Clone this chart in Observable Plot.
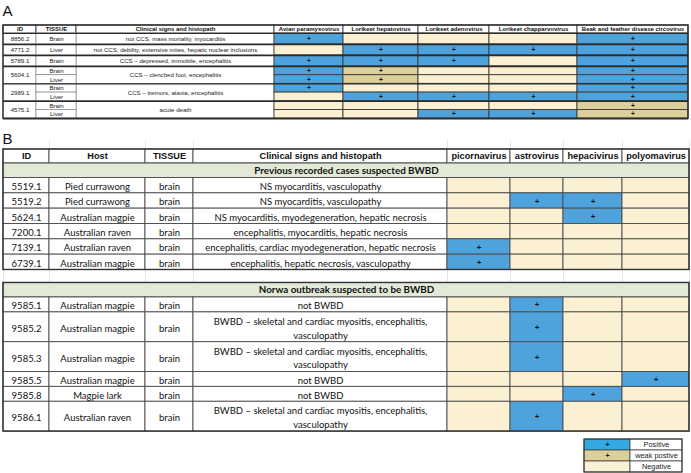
<!DOCTYPE html>
<html><head><meta charset="utf-8">
<script src="https://cdn.jsdelivr.net/npm/d3@7"></script>
<script src="https://cdn.jsdelivr.net/npm/@observablehq/plot@0.6"></script>
<style>html,body{margin:0;padding:0;background:#fff;overflow:hidden;}</style>
</head><body><div id="chart"></div>
<script>
// ---------------- DATA ----------------
const panelLabels = ["A", "B"];

// Panel A
const headersA = ["ID", "TISSUE", "Clinical signs and histopath"];
const virusesA = ["Avian paramyxovirus", "Lorikeet hepatovirus", "Lorikeet adenovirus", "Lorikeet chapparvovirus", "Beak and feather disease circovirus"];
const sampleIdsA = ["8856.2", "4771.2", "5789.1", "5604.1", "2989.1", "4575.1"];
const signsA = [
  "not CCS, mass mortality, myocarditis",
  "not CCS, debility, extensive mites, hepatic nuclear inclusions",
  "CCS \u2013 depressed, immobile, encephalitis",
  "CCS \u2013 clenched foot, encephalitis",
  "CCS \u2013 tremors, ataxia, encephalitis",
  "acute death"
];
const rowSampleA = [0, 1, 2, 3, 3, 4, 4, 5, 5];
const tissuesA = ["Brain", "Liver", "Brain", "Brain", "Liver", "Brain", "Liver", "Brain", "Liver"];
// P = positive, W = weak positive, N = negative
const resultsA = [
  ["P", "N", "N", "N", "P"],
  ["N", "P", "P", "P", "P"],
  ["P", "P", "P", "N", "P"],
  ["P", "W", "N", "N", "P"],
  ["P", "W", "N", "N", "P"],
  ["P", "N", "N", "N", "P"],
  ["N", "P", "P", "P", "P"],
  ["N", "N", "N", "N", "W"],
  ["N", "N", "P", "P", "W"]
];

// Panel B
const headersB = ["ID", "Host", "TISSUE", "Clinical signs and histopath"];
const virusesB = ["picornavirus", "astrovirus", "hepacivirus", "polyomavirus"];
const sectionsB = ["Previous recorded cases suspected BWBD", "Norwa outbreak suspected to be BWBD"];
const rowSectionB = [0, 0, 0, 0, 0, 0, 1, 1, 1, 1, 1, 1];
const idsB = ["5519.1", "5519.2", "5624.1", "7200.1", "7139.1", "6739.1", "9585.1", "9585.2", "9585.3", "9585.5", "9585.8", "9586.1"];
const hostsB = ["Pied currawong", "Pied currawong", "Australian magpie", "Australian raven", "Australian raven", "Australian magpie",
  "Australian magpie", "Australian magpie", "Australian magpie", "Australian magpie", "Magpie lark", "Australian raven"];
const tissuesB = ["brain", "brain", "brain", "brain", "brain", "brain", "brain", "brain", "brain", "brain", "brain", "brain"];
const signsB = [
  "NS myocarditis, vasculopathy",
  "NS myocarditis, vasculopathy",
  "NS myocarditis, myodegeneration, hepatic necrosis",
  "encephalitis, myocarditis, hepatic necrosis",
  "encephalitis, cardiac myodegeneration, hepatic necrosis",
  "encephalitis, hepatic necrosis, vasculopathy",
  "not BWBD",
  "BWBD \u2013 skeletal and cardiac myositis, encephalitis,\nvasculopathy",
  "BWBD \u2013 skeletal and cardiac myositis, encephalitis,\nvasculopathy",
  "not BWBD",
  "not BWBD",
  "BWBD \u2013 skeletal and cardiac myositis, encephalitis,\nvasculopathy"
];
const resultsB = [
  ["N", "N", "N", "N"],
  ["N", "P", "P", "N"],
  ["N", "N", "P", "N"],
  ["N", "N", "N", "N"],
  ["P", "N", "N", "N"],
  ["P", "N", "N", "N"],
  ["N", "P", "N", "N"],
  ["N", "P", "N", "N"],
  ["N", "P", "N", "N"],
  ["N", "N", "N", "P"],
  ["N", "N", "P", "N"],
  ["N", "P", "N", "N"]
];

// Legend
const legendCodes = ["P", "W", "N"];
const legendLabels = ["Positive", "weak postive", "Negative"];
const plusSign = "+";

// ---------------- LAYOUT / STYLE ----------------
const W = 691, H = 473;
const fillA = {P: "#4ea3dc", W: "#dccf9a", N: "#fbf0d2"};
const fillLegend = {P: "#33a9e2", W: "#dccf9a", N: "#fcf1d4"};
const colA = [3, 36, 76, 274, 343, 418, 489, 577, 688];
const headA = [25, 33];
const rowHA = [11, 11, 11, 8.7, 8.7, 8.7, 8.7, 8.7, 8.7];
const colB = [3, 49, 145, 193, 447, 510, 563, 622, 689];
const headB = [149, 163];
const sectHB = 14.5;
const unitB = [15.33, 14.9];
const gapB = 13;
const legendBox = {x: [584, 630, 682], y0: 439, rowH: 11};

const rects = [], rules = [], grid = [];
const tA_head = [], tA_body = [], tA_plus = [];
const tB_head = [], tB_sect = [], tB_body = [], tB_plus = [];
const tLeg = [], tLegPlus = [], tPanel = [];

function cell(x1, x2, y1, y2, fill, stroke, sw) { rects.push({x1, x2, y1, y2, fill, stroke, sw}); }

// Panel labels
tPanel.push({x: 2, y: 11, text: panelLabels[0]});
tPanel.push({x: 2, y: 139, text: panelLabels[1]});

// ---- Panel A ----
const dA = "#3c3c3c";
[...headersA, ...virusesA].forEach((h, i) => {
  cell(colA[i], colA[i + 1], headA[0], headA[1], "#ffffff", dA, 0.9);
  tA_head.push({x: (colA[i] + colA[i + 1]) / 2, y: (headA[0] + headA[1]) / 2, text: h});
});
const rowYA = [headA[1]];
rowHA.forEach(h => rowYA.push(rowYA[rowYA.length - 1] + h));
sampleIdsA.forEach((id, s) => {
  const rows = rowSampleA.map((v, i) => v === s ? i : -1).filter(i => i >= 0);
  const y1 = rowYA[rows[0]], y2 = rowYA[rows[rows.length - 1] + 1];
  cell(colA[0], colA[1], y1, y2, "#ffffff", "#888", 0.7);
  cell(colA[2], colA[3], y1, y2, "#ffffff", "#888", 0.7);
  tA_body.push({x: (colA[0] + colA[1]) / 2, y: (y1 + y2) / 2, text: id});
  tA_body.push({x: (colA[2] + colA[3]) / 2, y: (y1 + y2) / 2, text: signsA[s]});
  rules.push({y: y2, x1: colA[0], x2: colA[8], sw: 1.4, stroke: "#2a2a2a"});
});
tissuesA.forEach((t, r) => {
  const y1 = rowYA[r], y2 = rowYA[r + 1];
  cell(colA[1], colA[2], y1, y2, "#ffffff", "#888", 0.7);
  tA_body.push({x: (colA[1] + colA[2]) / 2, y: (y1 + y2) / 2, text: t});
  resultsA[r].forEach((code, v) => {
    const x1 = colA[3 + v], x2 = colA[4 + v];
    cell(x1, x2, y1, y2, fillA[code], dA, 0.9);
    if (code !== "N") tA_plus.push({x: (x1 + x2) / 2, y: (y1 + y2) / 2, text: plusSign});
  });
});
rects.push({x1: colA[0], x2: colA[8], y1: headA[0], y2: rowYA[rowYA.length - 1], fill: "none", stroke: "#2a2a2a", sw: 1.4});
rules.push({y: headA[1], x1: colA[0], x2: colA[8], sw: 1.2, stroke: "#2a2a2a"});

// ---- Panel B ----
const dB = "#4a4a4a";
colB.forEach(x => grid.push({x, y1: 140, y2: headB[0]}));
[...headersB, ...virusesB].forEach((h, i) => {
  cell(colB[i], colB[i + 1], headB[0], headB[1], "#ffffff", dB, 0.9);
  tB_head.push({x: (colB[i] + colB[i + 1]) / 2, y: (headB[0] + headB[1]) / 2, text: h});
});
let y = headB[1];
sectionsB.forEach((sec, s) => {
  if (s > 0) {
    colB.forEach(x => grid.push({x, y1: y, y2: y + gapB}));
    y += gapB;
  }
  const top = y;
  cell(colB[0], colB[8], y, y + sectHB, "#e2ead7", dB, 1);
  tB_sect.push({x: (colB[0] + colB[8]) / 2, y: y + sectHB / 2, text: sec});
  y += sectHB;
  rowSectionB.forEach((rs, r) => {
    if (rs !== s) return;
    const lines = signsB[r].split("\n").length;
    const y1 = y, y2 = y + lines * unitB[s];
    const left = [idsB[r], hostsB[r], tissuesB[r], signsB[r]];
    left.forEach((t, c) => {
      cell(colB[c], colB[c + 1], y1, y2, "#ffffff", dB, 0.9);
      tB_body.push({x: (colB[c] + colB[c + 1]) / 2, y: (y1 + y2) / 2, text: t});
    });
    resultsB[r].forEach((code, v) => {
      const x1 = colB[4 + v], x2 = colB[5 + v];
      cell(x1, x2, y1, y2, fillA[code], dB, 0.9);
      if (code !== "N") tB_plus.push({x: (x1 + x2) / 2, y: (y1 + y2) / 2, text: plusSign});
    });
    y = y2;
  });
  rects.push({x1: colB[0], x2: colB[8], y1: s === 0 ? headB[0] : top, y2: y, fill: "none", stroke: "#333", sw: 1.4});
});

// ---- Legend ----
legendCodes.forEach((code, i) => {
  const y1 = legendBox.y0 + i * legendBox.rowH, y2 = y1 + legendBox.rowH;
  cell(legendBox.x[0], legendBox.x[1], y1, y2, fillLegend[code], "#444", 0.8);
  cell(legendBox.x[1], legendBox.x[2], y1, y2, "#ffffff", "#444", 0.8);
  if (code !== "N") tLegPlus.push({x: (legendBox.x[0] + legendBox.x[1]) / 2, y: (y1 + y2) / 2 - 0.5, text: plusSign});
  tLeg.push({x: (legendBox.x[1] + legendBox.x[2]) / 2, y: (y1 + y2) / 2, text: legendLabels[i]});
});
rects.push({x1: legendBox.x[0], x2: legendBox.x[2], y1: legendBox.y0, y2: legendBox.y0 + 3 * legendBox.rowH, fill: "none", stroke: "#333", sw: 1});

const sans = "Liberation Sans, Arial, sans-serif";
const narrow = "Liberation Sans Narrow, Arial Narrow, Liberation Sans, sans-serif";
const cal = "Lato, Carlito, Calibri, sans-serif";

const chart = Plot.plot({
  width: W, height: H, margin: 0,
  x: {domain: [0, W], range: [0, W], axis: null},
  y: {domain: [0, H], range: [0, H], axis: null},
  style: {background: "#ffffff"},
  marks: [
    Plot.ruleX(grid, {x: "x", y1: "y1", y2: "y2", stroke: "#e4e4e4", strokeWidth: 1}),
    Plot.rect(rects, {x1: "x1", x2: "x2", y1: "y1", y2: "y2", fill: "fill", stroke: "stroke", strokeWidth: "sw"}),
    Plot.ruleY(rules, {y: "y", x1: "x1", x2: "x2", stroke: "stroke", strokeWidth: "sw"}),
    Plot.text(tPanel, {x: "x", y: "y", text: "text", textAnchor: "start", fontSize: 15, fontFamily: sans, fill: "#111"}),
    Plot.text(tA_head, {x: "x", y: "y", text: "text", fontSize: 6, fontWeight: "bold", fontFamily: narrow, fill: "#111"}),
    Plot.text(tA_body, {x: "x", y: "y", text: "text", fontSize: 6.1, fontFamily: sans, fill: "#222"}),
    Plot.text(tA_plus, {x: "x", y: "y", text: "text", fontSize: 6.5, fontWeight: "bold", fontFamily: sans, fill: "#111"}),
    Plot.text(tB_head, {x: "x", y: "y", text: "text", fontSize: 9.2, fontWeight: "bold", fontFamily: sans, fill: "#111"}),
    Plot.text(tB_sect, {x: "x", y: "y", text: "text", fontSize: 9.8, fontWeight: "bold", fontFamily: cal, fill: "#111"}),
    Plot.text(tB_body, {x: "x", y: "y", text: "text", fontSize: 9.5, fontFamily: cal, fill: "#111", lineHeight: 1.45}),
    Plot.text(tB_plus, {x: "x", y: "y", text: "text", fontSize: 8, fontWeight: "bold", fontFamily: sans, fill: "#111"}),
    Plot.text(tLegPlus, {x: "x", y: "y", text: "text", fontSize: 7, fontWeight: "bold", fontFamily: sans, fill: "#111"}),
    Plot.text(tLeg, {x: "x", y: "y", text: "text", fontSize: 7.4, fontFamily: sans, fill: "#222"})
  ]
});
document.getElementById("chart").appendChild(chart);
</script>
</body></html>
